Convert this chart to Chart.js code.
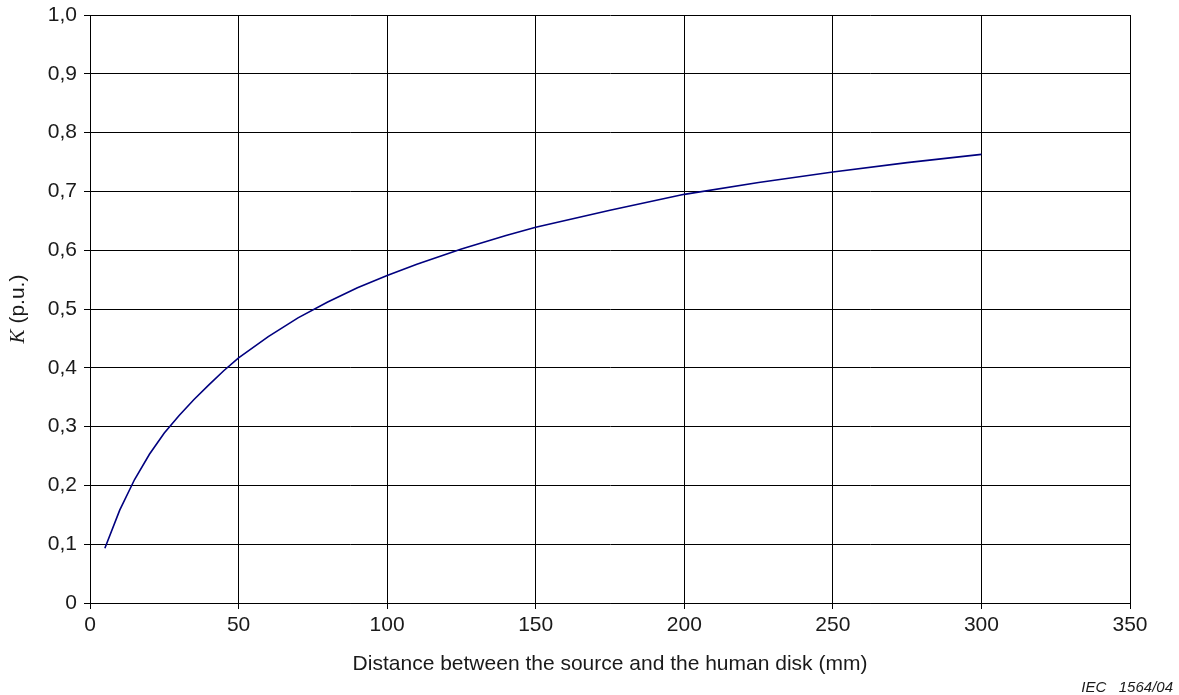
<!DOCTYPE html>
<html>
<head>
<meta charset="utf-8">
<script src="https://cdn.jsdelivr.net/npm/chart.js@4/dist/chart.umd.min.js"></script>
<style>
  html, body { margin: 0; padding: 0; background: #fff; }
  #wrap { width: 1179px; height: 695px; }
</style>
</head>
<body>
<div id="wrap"><canvas id="chart" width="1179" height="695"></canvas></div>
<script>
  // distance (mm) and the coefficient K (p.u.)
  const distance = [5, 10, 15, 20, 25, 30, 35, 40, 45, 50, 60, 70, 80, 90, 100,
                    110, 125, 140, 150, 175, 200, 225, 250, 275, 300];
  const kValues = [0.093, 0.158, 0.210, 0.253, 0.289, 0.319, 0.346, 0.371, 0.395, 0.417,
                   0.453, 0.485, 0.512, 0.536, 0.557, 0.576, 0.602, 0.625, 0.639,
                   0.668, 0.695, 0.715, 0.733, 0.749, 0.763];

  const xTitle = 'Distance between the source and the human disk (mm)';
  const yTitleSymbol = 'K';
  const yTitleUnit = ' (p.u.)';
  const footnote = 'IEC   1564/04';

  const FONT = 'Arial, "Liberation Sans", sans-serif';
  const SERIF = '"Liberation Serif", "Times New Roman", serif';

  // axis titles and reference number drawn by hand (K is italic)
  const titles = {
    id: 'titles',
    afterDraw(chart) {
      const { ctx, chartArea } = chart;
      ctx.save();
      ctx.fillStyle = '#1a1a1a';
      ctx.font = '21px ' + FONT;
      ctx.textAlign = 'center';
      ctx.textBaseline = 'middle';
      ctx.fillText(xTitle, (chartArea.left + chartArea.right) / 2, 664);

      // rotated y title
      ctx.translate(18, (chartArea.top + chartArea.bottom) / 2);
      ctx.rotate(-Math.PI / 2);
      ctx.font = 'italic 21px ' + SERIF;
      const w1 = ctx.measureText(yTitleSymbol).width;
      ctx.font = '21px ' + FONT;
      const w2 = ctx.measureText(yTitleUnit).width;
      const x0 = -(w1 + w2) / 2;
      ctx.textAlign = 'left';
      ctx.font = 'italic 21px ' + SERIF;
      ctx.fillText(yTitleSymbol, x0, 0);
      ctx.font = '21px ' + FONT;
      ctx.fillText(yTitleUnit, x0 + w1, 0);
      ctx.restore();

      ctx.save();
      ctx.fillStyle = '#1a1a1a';
      ctx.font = 'italic 15px ' + FONT;
      ctx.textAlign = 'right';
      ctx.textBaseline = 'alphabetic';
      ctx.fillText(footnote, 1173, 692);
      ctx.restore();
    }
  };

  new Chart(document.getElementById('chart'), {
    type: 'line',
    data: {
      datasets: [{
        data: distance.map((d, i) => ({ x: d, y: kValues[i] })),
        borderColor: '#00007f',
        borderWidth: 1.6,
        pointRadius: 0,
        tension: 0,
        fill: false
      }]
    },
    options: {
      responsive: false,
      animation: false,
      devicePixelRatio: 1,
      layout: { padding: { left: 0, right: 49, top: 15, bottom: 0 } },
      plugins: { legend: { display: false }, tooltip: { enabled: false } },
      scales: {
        x: {
          type: 'linear',
          min: 0, max: 350,
          afterFit(scale) {
            scale.height = 92;
            scale.paddingLeft = 0;
            scale.paddingRight = 0;
          },
          ticks: { stepSize: 50, color: '#1a1a1a', font: { size: 21, family: FONT }, padding: 4, maxRotation: 0 },
          grid: { color: '#000', lineWidth: 1, tickLength: 6 },
          border: { color: '#000', width: 1 }
        },
        y: {
          min: 0, max: 1,
          afterFit(scale) {
            scale.width = 90;
            scale.paddingTop = 0;
            scale.paddingBottom = 0;
          },
          ticks: {
            stepSize: 0.1,
            color: '#1a1a1a',
            font: { size: 21, family: FONT },
            padding: 7,
            callback: v => v === 0 ? '0' : v.toFixed(1).replace('.', ',')
          },
          grid: { color: '#000', lineWidth: 1, tickLength: 6 },
          border: { color: '#000', width: 1 }
        }
      }
    },
    plugins: [titles]
  });
</script>
</body>
</html>
